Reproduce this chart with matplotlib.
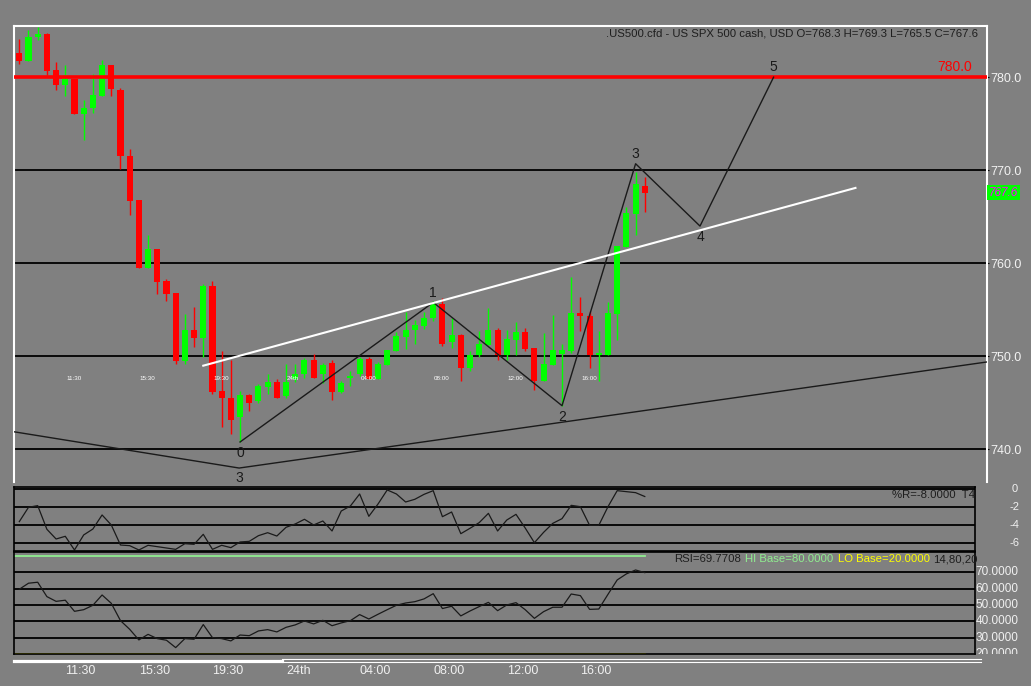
import matplotlib
matplotlib.use('Agg')
import matplotlib.pyplot as plt
from matplotlib.lines import Line2D
from matplotlib.transforms import blended_transform_factory, Bbox, TransformedBbox
import numpy as np

plt.rcParams['font.family'] = ['Liberation Sans', 'DejaVu Sans']

# 30-minute candles
opens = [782.6, 781.7, 784.3, 784.6, 780.8, 779.2, 779.8, 776.0, 776.7, 778.0,
         781.3, 778.6, 771.5, 766.8, 759.5, 761.5, 758.1, 756.8, 749.5, 752.8,
         752.0, 757.6, 746.3, 745.5, 743.5, 745.8, 745.2, 746.7, 747.2, 745.7,
         747.6, 748.1, 749.6, 748.1, 749.3, 746.2, 747.7, 748.1, 749.7, 747.6,
         749.1, 750.6, 752.1, 752.8, 753.3, 754.1, 755.6, 751.5, 752.3, 748.8,
         750.1, 751.2, 752.8, 750.1, 751.8, 752.6, 750.9, 747.3, 749.1, 750.3,
         750.6, 754.7, 754.3, 750.1, 750.1, 754.6, 761.8, 765.3, 768.3]
highs = [784.1, 785.1, 785.4, 784.8, 781.6, 781.3, 779.8, 777.5, 780.3, 781.8,
         781.3, 778.8, 772.3, 766.8, 763.0, 761.5, 758.3, 756.8, 754.6, 755.3,
         757.8, 758.1, 750.6, 749.6, 746.3, 746.0, 747.0, 748.1, 747.6, 749.2,
         749.2, 749.8, 750.3, 749.3, 749.6, 747.3, 748.4, 749.9, 749.9, 749.4,
         750.7, 752.6, 754.8, 753.9, 754.8, 756.0, 756.3, 754.1, 752.4, 750.6,
         752.7, 755.2, 753.1, 752.8, 753.7, 753.1, 750.9, 752.5, 754.4, 751.3,
         758.5, 756.4, 754.9, 752.7, 755.8, 761.9, 766.1, 769.8, 769.3]
lows = [781.4, 781.7, 784.0, 780.2, 778.6, 778.0, 776.0, 773.2, 776.2, 778.0,
        778.0, 770.1, 765.2, 759.5, 759.5, 756.7, 755.9, 749.2, 749.2, 751.0,
        749.9, 746.0, 742.4, 741.7, 740.8, 744.1, 745.0, 746.0, 745.5, 745.5,
        747.2, 747.7, 747.7, 747.1, 745.3, 746.1, 746.8, 747.9, 747.6, 747.6,
        749.1, 750.6, 750.8, 751.3, 752.9, 753.8, 751.1, 750.9, 747.3, 748.4,
        749.9, 751.2, 749.6, 749.6, 750.1, 750.6, 746.4, 747.3, 749.1, 744.7,
        750.4, 752.7, 748.8, 747.3, 750.1, 751.8, 761.8, 763.0, 765.5]
closes = [781.7, 784.3, 784.6, 780.7, 779.2, 779.8, 776.0, 776.7, 778.1, 781.3,
          778.7, 771.5, 766.7, 759.5, 761.5, 758.0, 756.7, 749.5, 752.8, 752.0,
          757.6, 746.2, 745.5, 743.2, 745.8, 745.0, 746.8, 747.2, 745.5, 747.2,
          748.1, 749.6, 747.7, 749.1, 746.2, 747.1, 747.85, 749.7, 747.6, 749.2,
          750.7, 752.2, 752.8, 753.4, 754.1, 755.7, 751.3, 752.3, 748.8, 750.1,
          751.3, 752.8, 750.1, 751.9, 752.6, 750.8, 747.3, 749.2, 750.7, 750.7,
          754.7, 754.3, 750.1, 750.4, 754.7, 761.9, 765.4, 768.5, 767.6]

williams_r = [-35.9, -20.0, -18.1, -44.4, -55.2, -52.2, -67.4, -50.7, -44.1, -28.5,
              -39.6, -61.9, -62.6, -67.4, -62.2, -63.7, -65.2, -66.7, -60.4, -61.1,
              -50.0, -66.7, -62.2, -64.8, -58.5, -57.8, -51.5, -48.2, -51.9, -42.2,
              -38.5, -33.3, -39.6, -35.2, -46.3, -24.1, -18.5, -5.2, -30.0, -16.3,
              -0.7, -5.2, -14.1, -11.1, -5.6, -1.5, -30.4, -25.2, -49.3, -43.3,
              -37.0, -26.7, -46.3, -34.1, -27.8, -43.0, -59.3, -47.8, -37.8, -32.6,
              -17.8, -19.3, -40.0, -40.0, -19.3, -1.5, -2.6, -3.7, -8.0]
rsi = [59.6, 63.3, 63.9, 55.1, 52.2, 52.9, 46.1, 47.1, 49.8, 56.1,
       51.0, 40.4, 35.1, 28.6, 32.0, 29.4, 28.4, 23.9, 29.4, 29.0,
       38.0, 30.0, 29.4, 28.0, 31.6, 31.2, 34.1, 34.9, 33.5, 36.3,
       37.8, 40.2, 38.4, 40.6, 37.3, 39.0, 40.4, 44.1, 41.4, 44.3,
       47.1, 49.8, 51.2, 52.0, 53.7, 56.9, 47.8, 49.2, 43.3, 46.3,
       49.0, 51.6, 46.5, 50.0, 51.4, 47.1, 41.8, 45.9, 48.6, 48.6,
       56.7, 55.7, 47.3, 47.5, 56.5, 65.3, 69.0, 71.4, 69.77]

# wave count (bar index, price)
wave_x = [24, 45, 59, 67, 74, 82]
wave_y = [740.8, 755.8, 744.7, 770.7, 764.0, 780.0]
wave_labels = ['0', '1', '2', '3', '4', '5']
wave_below = [True, False, True, False, True, False]
big_x = [-0.6, 23.9, 105.2]
big_y = [741.9, 738.0, 749.4]
trend_x = [20.0, 90.9]
trend_y = [749.0, 768.1]

time_ticks = [5, 13, 21, 29, 37, 45, 53, 61]
time_labels = ['11:30', '15:30', '19:30', '24th', '04:00', '08:00', '12:00', '16:00']
price_ticks = [740, 750, 760, 770, 780]
wr_levels = [0, -20, -40, -60]
rsi_levels = [30, 40, 50, 60, 70]

BG = '#808080'
W, H = 1031, 686
fig = plt.figure(figsize=(W / 100, H / 100), dpi=100, facecolor=BG)


def box(l, t, r, b):
    return [l / W, 1 - b / H, (r - l) / W, (b - t) / H]


ax = fig.add_axes(box(14, 26, 987, 482))
axr = fig.add_axes(box(14, 486.7, 975, 550.7))
axs = fig.add_axes(box(14, 552, 975, 654.3))
for a in (ax, axr, axs):
    a.set_facecolor(BG)

x = np.arange(len(opens))

# ---- price panel ----
for lv in price_ticks[:-1]:
    ax.axhline(lv, color='black', lw=1.3, zorder=1)
for i in x:
    o, h, l, c = opens[i], highs[i], lows[i], closes[i]
    col = '#00ff00' if c >= o else '#ff0000'
    ax.vlines(i, l, h, color=col, lw=1.0, zorder=2)
    ax.bar(i, max(abs(c - o), 0.15), bottom=min(o, c), width=0.66,
           color=col, linewidth=0, zorder=3)
ax.axhline(780, color='#ff0000', lw=2.6, zorder=4)
ax.text(103.6, 780.3, '780.0', color='#ff0000', fontsize=10, ha='right', va='bottom')

ax.plot(wave_x, wave_y, color='#1a1a1a', lw=1.0, zorder=5)
for wx, wy, lab, below in zip(wave_x, wave_y, wave_labels, wave_below):
    ax.annotate(lab, (wx, wy), xytext=(0, -3 if below else 2), textcoords='offset points',
                ha='center', va='top' if below else 'bottom', fontsize=10, color='#1a1a1a')
ax.plot(big_x, big_y, color='#1a1a1a', lw=1.0, zorder=5)
ax.annotate('3', (big_x[1], big_y[1]), xytext=(0, -2), textcoords='offset points',
            ha='center', va='top', fontsize=10, color='#1a1a1a')
ax.plot(trend_x, trend_y, color='white', lw=1.5, zorder=5)

# faint copies of the time labels inside the panel
for t, lab in zip(time_ticks, time_labels):
    ax.text(t + 0.1, 747.6, lab, fontsize=4.5, color='white', ha='left', va='center')

ax.set_xlim(-0.576, 105.2)
ax.set_ylim(736.5, 785.5)
ax.set_xticks([])
ax.yaxis.tick_right()
ax.set_yticks(price_ticks)
ax.set_yticklabels([f'{v:.1f}' for v in price_ticks])
ax.tick_params(axis='y', colors='black', labelcolor='#f2f2f2', labelsize=9,
               length=3, pad=1, direction='inout')
for s in ('left', 'top', 'right'):
    ax.spines[s].set_color('white')
    ax.spines[s].set_linewidth(1.5)
ax.spines['bottom'].set_visible(False)
yt = blended_transform_factory(ax.transAxes, ax.transData)
ax.text(1.002, 767.6, '767.6', transform=yt, color='#ff00ff', fontsize=8.5,
        style='italic', ha='left', va='center',
        bbox=dict(facecolor='#00ff00', edgecolor='none', pad=1.2))

fig.text(978 / W, 1 - 33 / H,
         '.US500.cfd - US SPX 500 cash, USD O=768.3 H=769.3 L=765.5 C=767.6',
         ha='right', va='center', fontsize=8.2, color='#1e1e1e')

# ---- Williams %R panel ----
for lv in wr_levels:
    axr.axhline(lv, color='black', lw=1.3)
axr.plot(x, williams_r, color='#1a1a1a', lw=0.9)
axr.set_xlim(-0.576, 103.9)
axr.set_ylim(-68.2, 2.9)
axr.set_xticks([])
axr.set_yticks([])
for s in axr.spines.values():
    s.set_color('black')
    s.set_linewidth(1.2)
axr.text(0.9995, -6.5, '%R=-8.0000  T4', transform=blended_transform_factory(axr.transAxes, axr.transData),
         ha='right', va='center', fontsize=8.2, color='#1e1e1e')
for lv, lab in zip(wr_levels, ['0', '-2', '-4', '-6']):
    axr.text(1.0415, lv, lab, transform=blended_transform_factory(axr.transAxes, axr.transData),
             ha='center', va='center', fontsize=8, color='#f0f0f0', clip_on=False)

# ---- RSI panel ----
for lv in rsi_levels:
    axs.axhline(lv, color='black', lw=1.3)
axs.plot([-0.576, x[-1]], [80, 80], color='#90ee90', lw=1.3)
axs.plot([-0.576, x[-1]], [20, 20], color='#ffff00', lw=1.3)
axs.plot(x, rsi, color='#1a1a1a', lw=0.9)
axs.set_xlim(-0.576, 103.9)
axs.set_ylim(19.8, 82.4)
axs.set_yticks([])
axs.set_xticks(time_ticks)
axs.set_xticklabels(time_labels, ha='left')
axs.tick_params(axis='x', length=0, pad=8, labelcolor='#f0f0f0', labelsize=9)
for s in axs.spines.values():
    s.set_color('black')
    s.set_linewidth(1.2)
rt = blended_transform_factory(axs.transAxes, axs.transData)
clip = TransformedBbox(Bbox([[0.95, 0.0], [1.1, 1.0]]), axs.transAxes)
for lv in [20, 30, 40, 50, 60, 70]:
    t = axs.text(1.0005, lv, f'{lv:.4f}', transform=rt, ha='left', va='center',
                 fontsize=8.5, color='#f0f0f0')
    t.set_clip_box(clip)
    t.set_clip_on(True)

# RSI legend, built right-to-left
renderer = fig.canvas.get_renderer()
xr = 978
for s, col in reversed([('RSI=69.7708', '#1e1e1e'), ('HI Base=80.0000', '#90ee90'),
                        ('LO Base=20.0000', '#ffff00'), ('14,80,20', '#1e1e1e')]):
    t = fig.text(xr / W, 1 - 559 / H, s, ha='right', va='center', fontsize=8.2, color=col)
    xr -= t.get_window_extent(renderer).width + 4

# scroll bar strip at the bottom
fig.add_artist(Line2D([14 / W, 282 / W], [1 - 660.5 / H] * 2, transform=fig.transFigure,
                      color='white', lw=2.3))
for yy in (659.3, 662.2):
    fig.add_artist(Line2D([282 / W, 981 / W], [1 - yy / H] * 2, transform=fig.transFigure,
                          color='white', lw=0.8))

fig.savefig('out.png', dpi=100, facecolor=BG)
